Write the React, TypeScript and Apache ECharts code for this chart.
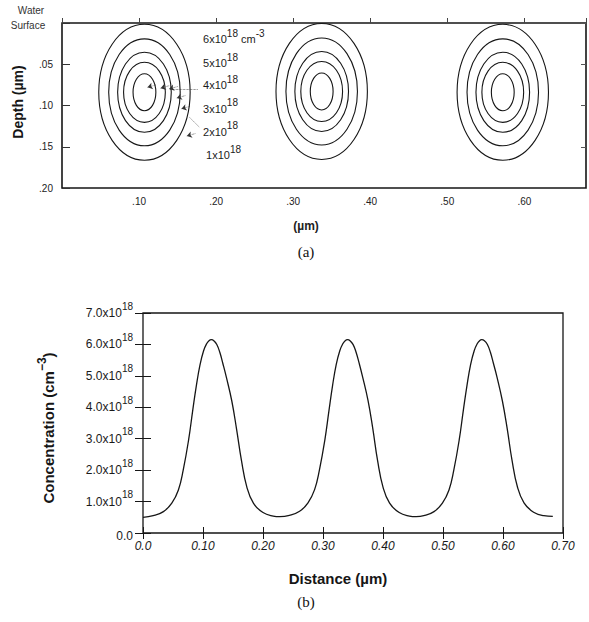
import React, { useEffect, useRef } from 'react';
import * as echarts from 'echarts';

// ---------- Panel (a): contour map ----------
const lateralTickLabels = ['', '.10', '.20', '.30', '.40', '.50', '.60'];
const depthTickLabels = ['', '.05', '.10', '.15', '.20'];

const wellCentersX = [0.107, 0.337, 0.572]; // µm
const wellCentersDepth = [0.084, 0.083, 0.084]; // µm
const contourLevels = [1, 2, 3, 4, 5]; // x10^18 cm^-3
const contourRx = [0.0593, 0.0464, 0.0348, 0.0271, 0.0148]; // µm (half width)
const contourRy = [0.0824, 0.0648, 0.0485, 0.0364, 0.0224]; // µm (half depth)

const labelMantissa = ['6', '5', '4', '3', '2', '1'];
const labelUnits = [' cm', '', '', '', '', ''];
const labelX = [0.183, 0.183, 0.183, 0.183, 0.183, 0.187];
const labelDepth = [0.0194, 0.0485, 0.0752, 0.1042, 0.1321, 0.16];

const arrowToX = [0.111, 0.128, 0.139, 0.149, 0.155, 0.162];
const arrowToDepth = [0.078, 0.079, 0.08, 0.091, 0.104, 0.137];
const leaderFromX = [0.176, 0.178];
const leaderFromDepth = [0.08, 0.126];
const leaderToX = [0.14, 0.165];
const leaderToDepth = [0.08, 0.114];

// ---------- Panel (b): concentration profile ----------
const distanceTickLabels = ['0.0', '0.10', '0.20', '0.30', '0.40', '0.50', '0.60', '0.70'];
const concTickLabels = ['0.0', '1.0', '2.0', '3.0', '4.0', '5.0', '6.0', '7.0'];

// distance (µm) / concentration (x10^18 cm^-3)
const distance1 = [0, 0.017, 0.034, 0.048, 0.059, 0.067, 0.076, 0.083, 0.089, 0.095, 0.101, 0.106, 0.11, 0.114,
  0.118, 0.123, 0.128, 0.133, 0.139, 0.148, 0.156, 0.164, 0.173, 0.184, 0.2, 0.217, 0.228];
const conc1 = [0.5, 0.55, 0.68, 0.95, 1.37, 2.0, 2.96, 3.92, 4.7, 5.35, 5.8, 6.02, 6.12, 6.15,
  6.12, 6.0, 5.75, 5.4, 4.95, 4.2, 3.3, 2.32, 1.47, 0.95, 0.65, 0.54, 0.52];
const distance2 = [0.244, 0.261, 0.275, 0.286, 0.294, 0.303, 0.31, 0.316, 0.322, 0.328, 0.333, 0.337, 0.341,
  0.345, 0.35, 0.355, 0.36, 0.366, 0.375, 0.383, 0.391, 0.4, 0.411, 0.427, 0.444, 0.455];
const conc2 = [0.56, 0.69, 0.96, 1.38, 2.0, 2.95, 3.9, 4.7, 5.36, 5.8, 6.02, 6.12, 6.15,
  6.12, 6.0, 5.76, 5.42, 4.97, 4.22, 3.32, 2.3, 1.46, 0.95, 0.65, 0.54, 0.52];
const distance3 = [0.468, 0.485, 0.499, 0.51, 0.518, 0.527, 0.534, 0.54, 0.546, 0.552, 0.557, 0.561, 0.5645,
  0.569, 0.574, 0.579, 0.584, 0.59, 0.599, 0.607, 0.615, 0.624, 0.635, 0.651, 0.668, 0.683];
const conc3 = [0.55, 0.68, 0.95, 1.37, 2.0, 2.96, 3.92, 4.7, 5.36, 5.8, 6.02, 6.12, 6.15,
  6.12, 6.0, 5.75, 5.4, 4.96, 4.2, 3.32, 2.32, 1.47, 0.96, 0.66, 0.55, 0.53];

const SANS = '"Liberation Sans", Arial, Helvetica, sans-serif';
const SERIF = '"Liberation Serif", "Times New Roman", serif';
const INK = '#161616';

export default function App() {
  const ref = useRef<HTMLDivElement>(null);

  useEffect(() => {
    if (!ref.current) return;
    const chart = echarts.init(ref.current, undefined, { renderer: 'svg' });

    const ellipseData: number[][] = [];
    wellCentersX.forEach((cx, w) => {
      contourLevels.forEach((_, k) => {
        ellipseData.push([cx, wellCentersDepth[w], contourRx[k], contourRy[k]]);
      });
    });

    const labelData = labelX.map((x, i) => [x, labelDepth[i], i]);

    const markLines: any[] = [];
    arrowToX.forEach((tx, i) => {
      markLines.push([
        { coord: [tx + 0.011, arrowToDepth[i] - 0.003] },
        { coord: [tx, arrowToDepth[i]] },
      ]);
    });
    leaderFromX.forEach((fx, i) => {
      markLines.push([
        { coord: [fx, leaderFromDepth[i]], symbol: 'none' },
        { coord: [leaderToX[i], leaderToDepth[i]], symbol: 'none' },
      ]);
    });

    const distance = [...distance1, ...distance2, ...distance3];
    const concentration = [...conc1, ...conc2, ...conc3];
    const profile = distance.map((d, i) => [d, concentration[i]]);

    const isTenth = (v: number) => Math.abs(v * 10 - Math.round(v * 10)) < 1e-6;
    const LBL = '#1c1c1c';

    const option: any = {
      animation: false,
      backgroundColor: '#ffffff',
      grid: [
        { left: 62, top: 23, width: 527, height: 165, show: true, borderColor: INK, borderWidth: 1.6, backgroundColor: 'transparent' },
        { left: 143, top: 313, width: 420, height: 220, show: true, borderColor: INK, borderWidth: 1.3, backgroundColor: 'transparent' },
      ],
      xAxis: [
        {
          gridIndex: 0, type: 'value', min: 0, max: 0.68, interval: 0.1,
          axisLine: { show: false },
          axisTick: { inside: true, length: 5, lineStyle: { color: '#444', width: 1 } },
          splitLine: { show: false },
          axisLabel: {
            margin: 8, fontSize: 10, color: '#222', fontFamily: SANS,
            formatter: (v: number) => (isTenth(v) ? lateralTickLabels[Math.round(v * 10)] ?? '' : ''),
          },
        },
        {
          gridIndex: 1, type: 'value', min: 0, max: 0.7, interval: 0.1,
          axisLine: { show: false },
          axisTick: { inside: true, length: 6, lineStyle: { color: INK, width: 1 } },
          splitLine: { show: false },
          axisLabel: {
            margin: 7, fontSize: 12, color: '#1a1a1a', fontFamily: SANS, fontStyle: 'italic',
            formatter: (v: number) => distanceTickLabels[Math.round(v * 10)] ?? '',
          },
        },
        {
          gridIndex: 1, type: 'value', position: 'top', min: 0, max: 0.7, interval: 0.1,
          axisLine: { show: false },
          axisTick: { inside: true, length: 6, lineStyle: { color: INK, width: 1 } },
          splitLine: { show: false },
          axisLabel: { show: false },
        },
      ],
      yAxis: [
        {
          gridIndex: 0, type: 'value', inverse: true, min: 0, max: 0.2, interval: 0.05,
          axisLine: { show: false },
          axisTick: { inside: true, length: 8, lineStyle: { color: '#333', width: 1 } },
          splitLine: { show: false },
          axisLabel: {
            margin: 9, fontSize: 10, color: '#222', fontFamily: SANS,
            formatter: (v: number) => depthTickLabels[Math.round(v / 0.05)] ?? '',
          },
        },
        {
          gridIndex: 0, type: 'value', position: 'right', inverse: true, min: 0, max: 0.2, interval: 0.05,
          axisLine: { show: false },
          axisTick: { inside: true, length: 5, lineStyle: { color: '#555', width: 1 } },
          splitLine: { show: false },
          axisLabel: { show: false },
        },
        {
          gridIndex: 1, type: 'value', min: 0, max: 7, interval: 1,
          axisLine: { show: false },
          axisTick: { inside: true, length: 8, lineStyle: { color: INK, width: 1 } },
          splitLine: { show: false },
          axisLabel: {
            margin: 10, color: '#1a1a1a', fontFamily: SANS,
            formatter: (v: number) => {
              const i = Math.round(v);
              if (i === 0) return '{z|' + concTickLabels[0] + '}';
              return '{m|' + concTickLabels[i] + 'x10}{s|18}';
            },
            rich: {
              z: { fontSize: 12, fontFamily: SANS, color: '#1a1a1a', lineHeight: 14, padding: [6, 0, 0, 0] },
              m: { fontSize: 12, fontFamily: SANS, color: '#1a1a1a', lineHeight: 24 },
              s: { fontSize: 10, fontFamily: SANS, color: '#1a1a1a', lineHeight: 10, verticalAlign: 'top' },
            },
          },
        },
        {
          gridIndex: 1, type: 'value', position: 'right', min: 0, max: 7, interval: 1,
          axisLine: { show: false },
          axisTick: { inside: true, length: 8, lineStyle: { color: INK, width: 1 } },
          splitLine: { show: false },
          axisLabel: { show: false },
        },
      ],
      series: [
        {
          type: 'custom',
          xAxisIndex: 0,
          yAxisIndex: 0,
          clip: false,
          silent: true,
          encode: { x: 0, y: 1 },
          data: ellipseData,
          renderItem: (params: any, api: any) => {
            const c = api.coord([api.value(0), api.value(1)]);
            const s = api.size([api.value(2), api.value(3)]);
            return {
              type: 'ellipse',
              shape: { cx: c[0], cy: c[1], rx: Math.abs(s[0]), ry: Math.abs(s[1]) },
              style: { fill: 'none', stroke: INK, lineWidth: 1.1 },
            };
          },
        },
        {
          type: 'custom',
          xAxisIndex: 0,
          yAxisIndex: 0,
          clip: false,
          silent: true,
          encode: { x: 0, y: 1 },
          data: labelData,
          renderItem: (params: any, api: any) => {
            const c = api.coord([api.value(0), api.value(1)]);
            const i = api.value(2);
            let t = '{m|' + labelMantissa[i] + 'x10}{s|18}';
            if (labelUnits[i]) t += '{m|' + labelUnits[i] + '}{s|-3}';
            return {
              type: 'text',
              x: c[0],
              y: c[1],
              style: {
                text: t,
                fill: LBL,
                align: 'left',
                verticalAlign: 'middle',
                rich: {
                  m: { fontSize: 11, fontFamily: SANS, fill: LBL, lineHeight: 22 },
                  s: { fontSize: 10, fontFamily: SANS, fill: LBL, lineHeight: 10, verticalAlign: 'top' },
                },
              },
            };
          },
          markLine: {
            silent: true,
            symbol: ['none', 'arrow'],
            symbolSize: 5,
            label: { show: false },
            lineStyle: { color: '#333', width: 0.7, type: 'dotted' },
            itemStyle: { color: '#222' },
            data: markLines,
          },
        },
        {
          type: 'line',
          xAxisIndex: 1,
          yAxisIndex: 2,
          data: profile,
          showSymbol: false,
          symbol: 'none',
          smooth: 0.45,
          silent: true,
          lineStyle: { color: INK, width: 1.3 },
        },
      ],
      graphic: [
        { type: 'text', x: 31, y: 10, style: { text: 'Water', fontSize: 10, fontFamily: SANS, fill: '#333', align: 'center', verticalAlign: 'middle' } },
        { type: 'text', x: 28, y: 25, style: { text: 'Surface', fontSize: 10, fontFamily: SANS, fill: '#333', align: 'center', verticalAlign: 'middle' } },
        { type: 'text', x: 18, y: 102, rotation: Math.PI / 2, style: { text: 'Depth (µm)', fontSize: 14, fontWeight: 'bold', fontFamily: SANS, fill: INK, align: 'center', verticalAlign: 'middle' } },
        { type: 'text', x: 306, y: 226, style: { text: '(µm)', fontSize: 12, fontWeight: 'bold', fontFamily: SANS, fill: '#222', align: 'center', verticalAlign: 'middle' } },
        { type: 'text', x: 306, y: 252, style: { text: '(a)', fontSize: 15, fontFamily: SERIF, fill: '#111', align: 'center', verticalAlign: 'middle' } },
        {
          type: 'text', x: 48, y: 428, rotation: Math.PI / 2,
          style: {
            text: '{b|Concentration (cm}{s|−3}{b|)}',
            rich: {
              b: { fontSize: 15, fontWeight: 'bold', fontFamily: SANS, fill: INK, lineHeight: 24 },
              s: { fontSize: 12, fontWeight: 'bold', fontFamily: SANS, fill: INK, lineHeight: 12, verticalAlign: 'top' },
            },
            align: 'center', verticalAlign: 'middle',
          },
        },
        { type: 'text', x: 338, y: 578, style: { text: 'Distance (µm)', fontSize: 15, fontWeight: 'bold', fontFamily: SANS, fill: INK, align: 'center', verticalAlign: 'middle' } },
        { type: 'text', x: 306, y: 602, style: { text: '(b)', fontSize: 15, fontFamily: SERIF, fill: '#111', align: 'center', verticalAlign: 'middle' } },
      ],
    };

    chart.setOption(option);
    return () => chart.dispose();
  }, []);

  return (
    <div
      ref={ref}
      style={{ position: 'fixed', left: 0, top: 0, width: 589, height: 622, background: '#fff' }}
    />
  );
}
